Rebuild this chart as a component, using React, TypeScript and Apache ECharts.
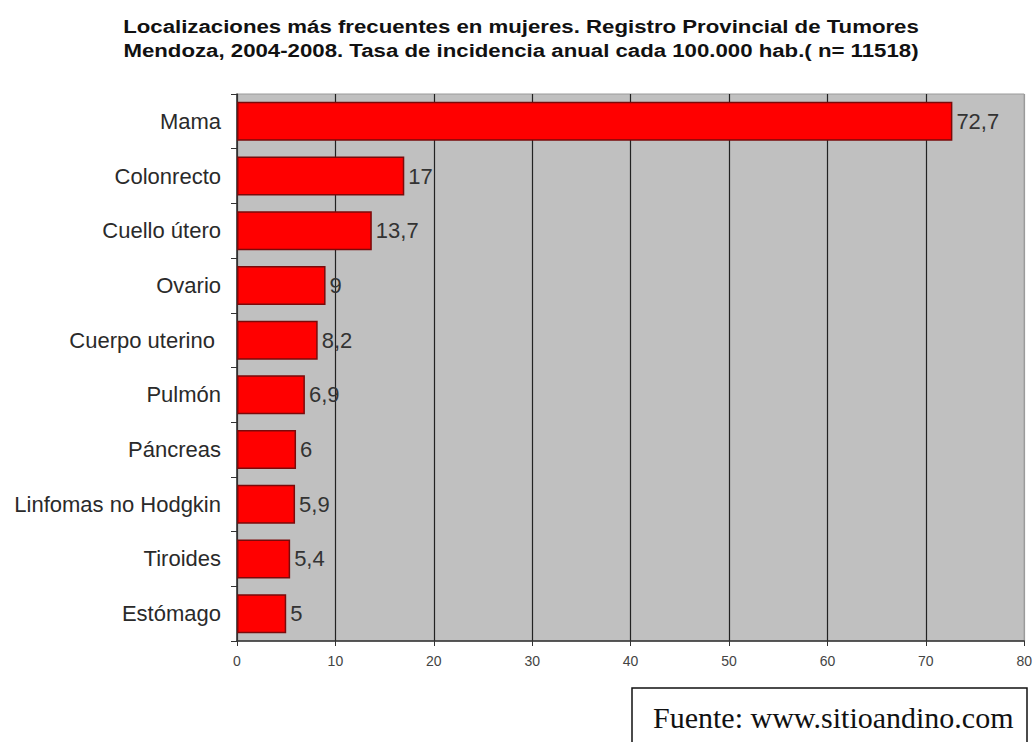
import React, { useEffect, useRef } from "react";
import * as echarts from "echarts";

const categories = [
  "Mama",
  "Colonrecto",
  "Cuello útero",
  "Ovario",
  "Cuerpo uterino ",
  "Pulmón",
  "Páncreas",
  "Linfomas no Hodgkin",
  "Tiroides",
  "Estómago",
];
const values = [72.7, 17, 13.7, 9, 8.2, 6.9, 6, 5.9, 5.4, 5];
const xTicks = [0, 10, 20, 30, 40, 50, 60, 70, 80];
const titleLines = [
  "Localizaciones más frecuentes en mujeres. Registro Provincial de Tumores",
  "Mendoza, 2004-2008. Tasa de incidencia anual cada 100.000 hab.( n= 11518)",
];
const sourceText = "Fuente: www.sitioandino.com";

export default function App() {
  const ref = useRef<HTMLDivElement>(null);
  useEffect(() => {
    if (!ref.current) return;
    const chart = echarts.init(ref.current, undefined, { renderer: "svg" });
    const font = "'Liberation Sans', Arial, sans-serif";
    chart.setOption({
      animation: false,
      backgroundColor: "#ffffff",
      grid: {
        left: 237,
        top: 94,
        width: 789,
        height: 547,
        show: true,
        backgroundColor: "#c0c0c0",
        borderColor: "#9a9a9a",
        borderWidth: 1,
      },
      xAxis: {
        type: "value",
        min: xTicks[0],
        max: xTicks[xTicks.length - 1],
        interval: 10,
        axisLine: { show: true, lineStyle: { color: "#333", width: 1.5 } },
        axisTick: { show: true, length: 5, lineStyle: { color: "#333" } },
        axisLabel: {
          color: "#444",
          fontSize: 14,
          fontFamily: font,
          margin: 13,
        },
        splitLine: {
          show: true,
          lineStyle: {
            color: ["#333", "#222", "#222", "#222", "#222", "#222", "#222", "#222", "#9a9a9a"],
            width: 1.2,
          },
        },
      },
      yAxis: {
        type: "category",
        data: categories,
        inverse: true,
        axisLine: { show: true, lineStyle: { color: "#333", width: 1.5 } },
        axisTick: { show: true, length: 6, lineStyle: { color: "#333" } },
        axisLabel: {
          color: "#2a2a2a",
          fontSize: 22,
          fontFamily: font,
          margin: 16,
        },
        splitLine: { show: false },
      },
      series: [
        {
          type: "bar",
          data: values,
          barWidth: 39,
          itemStyle: {
            color: "#ff0000",
            borderColor: "#7a0a0a",
            borderWidth: 1.5,
          },
          label: {
            show: true,
            position: "right",
            distance: 4,
            color: "#333",
            fontSize: 22,
            fontFamily: font,
            formatter: (p: any) => String(p.value).replace(".", ","),
          },
        },
      ],
      graphic: [
        {
          type: "text",
          x: 521,
          y: 26,
          scaleX: 1.17,
          style: {
            text: titleLines[0],
            font: "bold 19px 'Liberation Sans', Arial, sans-serif",
            fill: "#111",
            align: "center",
            verticalAlign: "middle",
          },
        },
        {
          type: "text",
          x: 521,
          y: 50,
          scaleX: 1.17,
          style: {
            text: titleLines[1],
            font: "bold 19px 'Liberation Sans', Arial, sans-serif",
            fill: "#111",
            align: "center",
            verticalAlign: "middle",
          },
        },
        {
          type: "rect",
          shape: { x: 632, y: 688, width: 395, height: 70 },
          style: { fill: "#fff", stroke: "#111", lineWidth: 1.5 },
        },
        {
          type: "text",
          x: 653,
          y: 717,
          style: {
            text: sourceText,
            font: "30px 'Liberation Serif', 'Times New Roman', serif",
            fill: "#111",
            align: "left",
            verticalAlign: "middle",
          },
        },
      ],
    });
    return () => chart.dispose();
  }, []);
  return (
    <div
      ref={ref}
      style={{ position: "fixed", left: 0, top: 0, width: 1035, height: 742 }}
    />
  );
}
